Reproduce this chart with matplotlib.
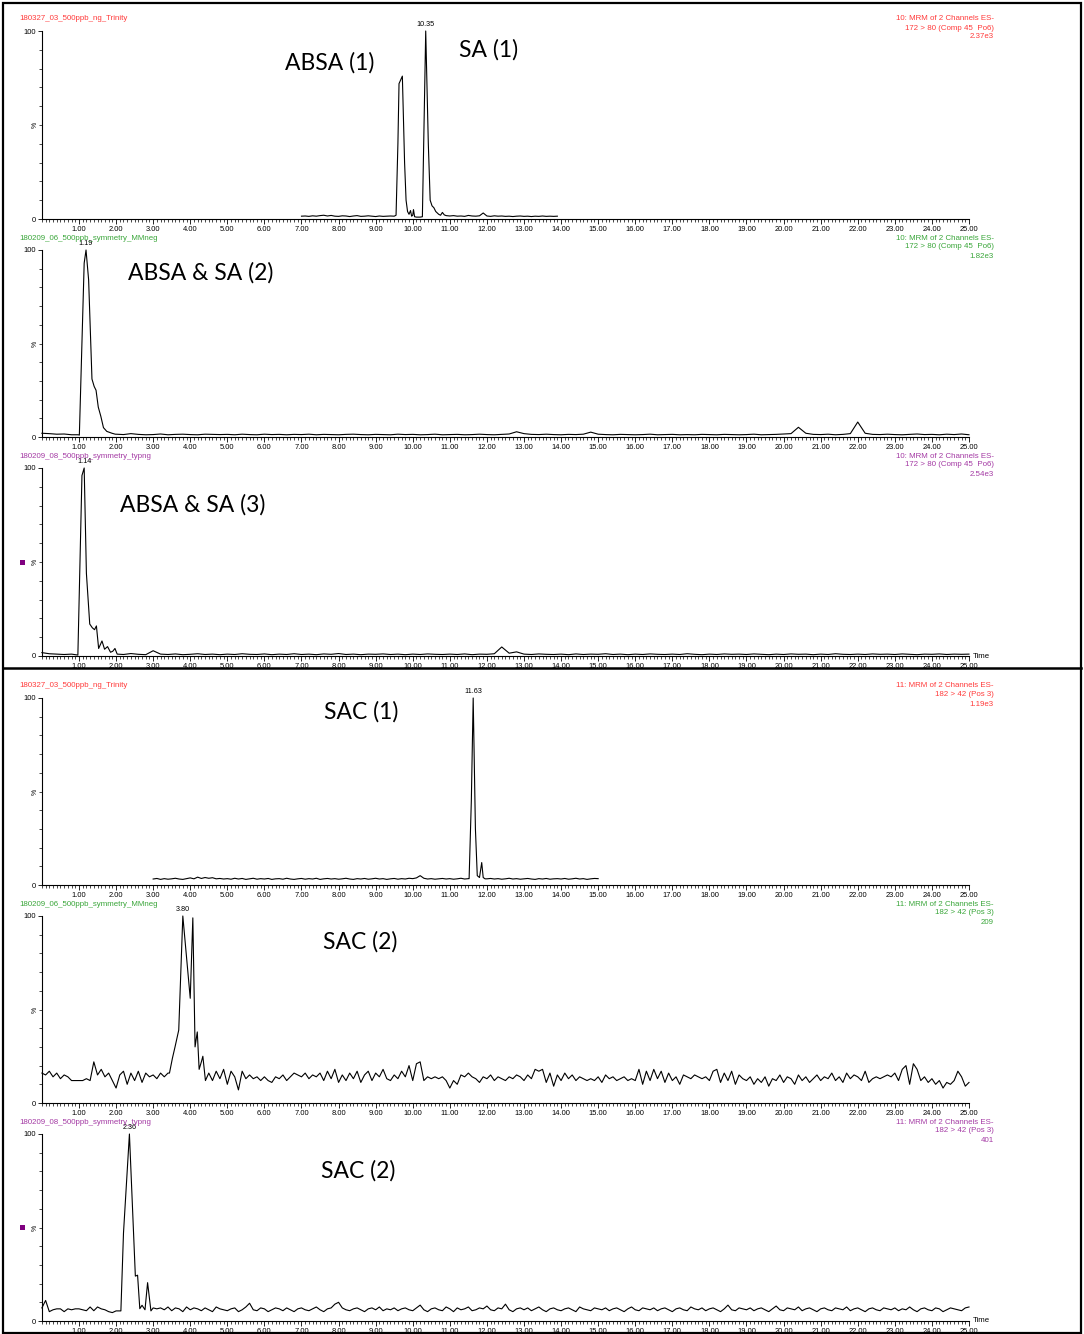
import numpy as np
import matplotlib
matplotlib.use("Agg")
import matplotlib.pyplot as plt
from matplotlib.ticker import FixedLocator, MultipleLocator
from matplotlib.lines import Line2D
from matplotlib.patches import Rectangle

# ---------------- DATA ----------------
# Panel 1: ABSA (1) / SA (1)   172 > 80, Trinity
p1_base_start, p1_base_step = 7.0, 0.1
p1_base = [1.5,1.6,1.4,1.7,1.5,1.8,2.0,1.6,1.9,1.5,
           1.4,1.7,1.6,1.3,1.6,1.8,1.4,1.5,1.7,1.5,
           1.3,1.6,1.4,1.5,1.6,1.5,1.5,1.5,1.5,1.5,
           1.5,1.5,1.5,1.5,1.5,1.5,1.5,1.5,1.5,1.8,
           1.6,1.8,1.5,1.6,1.4,1.9,1.6,1.5,1.7,3.2,
           1.6,1.4,1.7,1.5,1.6,1.4,1.5,1.3,1.5,1.6,
           1.4,1.5,1.3,1.5,1.4,1.6,1.4,1.5,1.4,1.5]
p1_peak_t = [9.55,9.60,9.63,9.72,9.78,9.82,9.86,9.90,9.94,9.97,10.00,10.02,10.05,10.10,10.20,
             10.26,10.35,10.42,10.47,10.52,10.57,10.62,10.70,10.75,10.80,10.85]
p1_peak_i = [2.0,40,72,76,30,10,4,2.5,4.5,1.5,2.0,5.0,1.2,1.0,1.0,
             1.2,100,40,10,7,6,4,2.5,2.0,3.5,2.2]

# Panel 2: ABSA & SA (2)   172 > 80, MMneg
p2_base_start, p2_base_step = 0.0, 0.2
p2_base = [2.0,1.8,1.5,1.6,1.2, 1.0,1.0,1.0,1.0,1.0, 1.5,1.3,1.8,1.4,1.2, 1.3,1.6,1.2,1.4,1.5,
           1.3,1.2,1.5,1.4,1.3, 1.4,1.2,1.5,1.3,1.2, 1.5,1.3,1.4,1.2,1.4, 1.3,1.5,1.2,1.4,1.3,
           1.2,1.4,1.5,1.3,1.2, 1.4,1.3,1.2,1.5,1.3, 1.4,1.2,1.3,1.5,1.2, 1.3,1.4,1.2,1.3,1.5,
           1.3,1.2,1.4,1.6,2.8, 1.8,1.4,1.3,1.5,1.3, 1.2,1.4,1.3,1.5,2.6, 1.5,1.3,1.2,1.4,1.3,
           1.2,1.3,1.5,1.2,1.3, 1.4,1.2,1.3,1.2,1.4, 1.3,1.2,1.4,1.3,1.2, 1.3,1.5,1.2,1.3,1.4,
           1.6,1.8,5.2,2.0,1.4, 1.3,1.5,1.2,1.4,1.8, 8.0,2.0,1.4,1.3,1.5, 1.3,1.2,1.4,1.6,1.3,
           1.4,1.2,1.5,1.3,1.6, 1.2]
p2_peak_t = [0.98,1.01,1.14,1.19,1.26,1.35,1.41,1.46,1.52,1.59,1.66,1.75,1.89,1.98]
p2_peak_i = [1.2,1.0,93,100,84,31,27,25,16,11,5,3,2,1.5]

# Panel 3: ABSA & SA (3)   172 > 80, typng
p3_base_start, p3_base_step = 0.0, 0.2
p3_base = [1.8,1.2,1.0,0.8,1.0, 1.0,1.0,1.0,1.0,1.0, 1.0,0.8,1.3,0.9,0.7, 2.8,1.0,0.8,1.1,0.7,
           0.9,1.2,0.8,1.0,0.7, 1.0,0.8,1.2,0.9,0.8, 1.1,0.7,1.0,0.8,1.2, 0.8,1.0,0.7,1.1,0.9,
           1.3,0.8,1.0,0.7,1.0, 0.9,1.1,0.8,1.0,0.7, 1.0,0.8,1.1,0.9,0.8, 1.0,0.8,1.1,0.7,1.0,
           0.9,1.2,4.8,1.5,2.2, 1.0,0.8,1.1,0.9,0.8, 1.0,0.7,1.1,0.8,1.0, 0.9,1.2,0.8,1.0,0.7,
           1.0,0.8,1.1,0.9,0.8, 1.0,0.8,1.2,0.9,0.7, 1.0,0.8,1.1,0.9,1.0, 0.8,1.1,0.9,0.7,1.0,
           0.8,1.1,0.9,1.0,0.7, 1.0,0.8,1.2,0.9,0.8, 1.0,0.8,1.1,0.9,1.0, 0.8,1.1,0.9,0.7,1.0,
           0.9,1.1,0.8,1.0,0.9, 1.0]
p3_peak_t = [0.97,1.08,1.14,1.20,1.29,1.36,1.42,1.47,1.53,1.62,1.69,1.77,1.85,1.91,1.97,2.03]
p3_peak_i = [0.5,96,100,44,17,15,14,16,4,8,3.6,5,2,2.5,4,1]

# Panel 4: SAC (1)   182 > 42, Trinity
p4_base_start, p4_base_step = 3.0, 0.1
p4_base = [3.2,3.5,3.0,3.4,3.1,3.3,3.6,3.2,3.0,3.4,
           3.8,3.3,4.2,3.5,4.0,3.6,3.9,3.3,3.5,3.2,
           3.4,3.1,3.6,3.2,3.5,3.0,3.3,3.6,3.1,3.4,
           3.2,3.5,3.0,3.3,3.4,3.1,3.6,3.2,3.0,3.3,
           3.5,3.1,3.4,3.2,3.6,3.0,3.3,3.5,3.2,3.4,
           3.1,3.3,3.6,3.2,3.0,3.4,3.2,3.5,3.1,3.3,
           3.6,3.2,3.4,3.0,3.3,3.5,3.1,3.4,3.2,3.6,
           3.4,3.8,5.0,3.6,3.2,3.4,3.1,3.3,3.5,3.2,
           3.4,3.1,3.3,3.6,3.2,3.4,3.0,3.0,3.0,3.0,
           3.3,3.5,3.2,3.4,3.1,3.3,3.6,3.2,3.4,3.1,
           3.3,3.5,3.2,3.0,3.4,3.2,3.5,3.1,3.3,3.4,
           3.2,3.5,3.1,3.3,3.6,3.2,3.4,3.0,3.3,3.5,
           3.4]
p4_peak_t = [11.52,11.58,11.63,11.69,11.74,11.80,11.86,11.90,11.95]
p4_peak_i = [3.4,45,100,30,5,4,12,4,3.3]

# Panel 5: SAC (2)   182 > 42, MMneg
p5_base_start, p5_base_step = 0.0, 0.1
p5_base = [16,15,17,14,16,13,15,14,12,12,
           12,12,13,12,22,15,18,14,16,12,
           8,15,17,10,16,12,17,11,16,14,
           15,13,16,14,16,15,15,15,15,15,
           15,15,15,15,15,16,12,17,13,18,
           10,17,14,7,17,13,15,13,14,12,
           14,12,11,14,13,15,12,14,16,15,
           14,16,13,15,14,16,12,17,13,18,
           11,15,12,16,13,17,11,15,17,12,
           16,14,18,13,12,15,13,17,14,20,
           12,21,22,12,14,13,14,13,14,12,
           8,12,10,15,14,16,14,13,11,14,
           13,15,12,14,13,12,14,13,15,14,
           12,15,13,18,17,18,11,16,9,15,
           12,16,13,15,12,14,13,12,13,12,
           14,11,15,13,14,12,13,14,12,13,
           12,18,10,17,12,18,13,17,11,16,
           12,14,10,15,14,13,15,14,13,14,
           12,17,18,11,16,12,17,10,15,13,
           12,14,10,13,11,14,9,13,12,15,
           11,14,13,10,15,12,14,11,13,15,
           12,14,13,16,12,14,11,16,13,15,
           14,12,17,11,13,14,13,14,15,14,
           16,12,18,20,10,21,18,12,14,11,
           13,10,12,8,11,10,12,17,14,9,
           11]
p5_peak_t = [3.44,3.52,3.59,3.69,3.80,4.00,4.07,4.13,4.19,4.24,4.30,4.34,4.41]
p5_peak_i = [16,24,30,39,100,56,99,30,38,18,22,25,12]

# Panel 6: SAC (2)   182 > 42, typng
p6_base_start, p6_base_step = 0.0, 0.1
p6_base = [7.0,11.0,5.0,6.0,6.5,6.5,5.0,6.5,6.0,6.5,
           6.5,6.0,5.5,7.5,5.5,7.5,6.5,6.0,5.0,4.5,
           5.4,5.4,5.0,5.0,5.0,5.0,5.0,5.0,5.0,5.0,
           7.0,6.5,7.0,6.0,7.5,5.5,7.0,6.5,5.0,7.5,
           6.0,7.0,6.5,5.5,7.0,6.0,5.0,7.5,6.5,6.0,
           5.5,6.5,7.0,5.0,6.0,7.5,9.5,6.0,5.5,7.0,
           6.5,5.0,6.0,7.0,6.5,5.5,7.0,6.0,5.0,6.5,
           7.0,6.0,5.5,6.5,7.5,6.0,5.0,6.5,7.0,9.0,
           10.0,7.0,6.0,5.5,6.5,7.0,6.0,5.0,6.5,7.0,
           6.0,7.5,5.5,6.5,6.0,7.0,5.5,6.5,7.0,6.0,
           5.5,7.0,8.5,6.0,5.0,6.5,7.0,6.0,5.5,7.5,
           6.5,5.0,7.0,6.0,6.5,7.5,5.5,6.0,7.0,6.5,
           8.0,6.0,5.5,7.0,6.5,9.0,6.0,5.0,6.5,7.0,
           6.0,7.0,5.5,6.5,7.5,6.0,5.0,6.5,7.0,6.0,
           5.5,6.5,7.0,6.0,5.0,7.5,6.5,6.0,5.5,7.0,
           6.5,6.0,7.0,5.5,6.5,7.0,6.0,5.0,6.5,7.5,
           6.0,5.5,7.0,6.5,6.0,7.0,5.5,6.5,7.0,6.0,
           5.0,6.5,7.0,6.0,5.5,7.5,6.5,6.0,7.0,5.5,
           6.5,7.0,6.0,5.0,6.5,8.5,6.0,5.5,7.0,6.5,
           6.0,7.0,5.5,6.5,7.0,6.0,5.0,6.5,8.0,6.0,
           5.5,7.0,6.5,6.0,7.5,5.5,6.5,7.0,6.0,5.0,
           6.5,7.0,6.0,5.5,7.0,6.5,6.0,7.5,5.5,6.5,
           7.0,6.0,5.0,6.5,7.0,6.0,5.5,7.0,6.5,6.0,
           7.0,5.5,6.5,6.0,7.5,6.0,5.0,6.5,7.0,6.0,
           5.5,7.0,6.5,5.0,6.0,7.0,6.5,6.0,5.5,7.0,
           7.5]
p6_peak_t = [2.13,2.20,2.36,2.52,2.58,2.64,2.70,2.78,2.85,2.94]
p6_peak_i = [5.4,47,100,24,24.5,6.6,8.4,6,20.5,5.4]

sample_names = ["180327_03_500ppb_ng_Trinity", "180209_06_500ppb_symmetry_MMneg",
                "180209_08_500ppb_symmetry_typng", "180327_03_500ppb_ng_Trinity",
                "180209_06_500ppb_symmetry_MMneg", "180209_08_500ppb_symmetry_typng"]
func_line1 = ["10: MRM of 2 Channels ES-"] * 3 + ["11: MRM of 2 Channels ES-"] * 3
func_line2 = ["172 > 80 (Comp 45  Po6)"] * 3 + ["182 > 42 (Pos 3)"] * 3
base_peak_int = ["2.37e3", "1.82e3", "2.54e3", "1.19e3", "209", "401"]
compound_labels = [["ABSA (1)", "SA (1)"], ["ABSA & SA (2)"], ["ABSA & SA (3)"],
                   ["SAC (1)"], ["SAC (2)"], ["SAC (2)"]]
x_tick_values = list(range(1, 26))

# ---------------- STYLE / LAYOUT ----------------
W, H = 1084, 1334
RED, GREEN, PURPLE = "#ff3b3b", "#3aa63a", "#a43aa4"
name_colors = [RED, GREEN, PURPLE, RED, GREEN, PURPLE]
# (pixel y of 0 %, pixel y of 100 %)
panel_y = [(219, 31), (437, 250), (656, 468), (885, 698), (1103, 916), (1321, 1134)]
X0_PX, X25_PX = 41.9, 969.0
label_pos = [[(330, 63), (489, 50)], [(201, 273)], [(193, 505)],
             [(361, 712)], [(360, 942)], [(358, 1171)]]
SMALL = "Liberation Sans"
BIG = "Lato"


def merge(start, step, base, pk_t, pk_i):
    bt = np.round(start + step * np.arange(len(base)), 3)
    bv = np.asarray(base, float)
    keep = (bt < pk_t[0]) | (bt > pk_t[-1])
    t = np.concatenate([bt[keep], pk_t])
    v = np.concatenate([bv[keep], pk_i])
    o = np.argsort(t, kind="stable")
    return t[o], v[o]


traces = [
    merge(p1_base_start, p1_base_step, p1_base, p1_peak_t, p1_peak_i),
    merge(p2_base_start, p2_base_step, p2_base, p2_peak_t, p2_peak_i),
    merge(p3_base_start, p3_base_step, p3_base, p3_peak_t, p3_peak_i),
    merge(p4_base_start, p4_base_step, p4_base, p4_peak_t, p4_peak_i),
    merge(p5_base_start, p5_base_step, p5_base, p5_peak_t, p5_peak_i),
    merge(p6_base_start, p6_base_step, p6_base, p6_peak_t, p6_peak_i),
]

fig = plt.figure(figsize=(W / 100, H / 100), dpi=100)
fig.patch.set_facecolor("white")


def fx(px):
    return px / W


def fy(py):
    return 1 - py / H


for k, (t, v) in enumerate(traces):
    y0, y100 = panel_y[k]
    ax = fig.add_axes([fx(X0_PX), fy(y0), (X25_PX - X0_PX) / W, (y0 - y100) / H])
    ax.set_xlim(0, 25)
    ax.set_ylim(0, 100)
    ax.patch.set_alpha(0)
    for s in ("top", "right"):
        ax.spines[s].set_visible(False)
    for s in ("left", "bottom"):
        ax.spines[s].set_linewidth(0.8)
        ax.spines[s].set_color("black")
    ax.plot(t, v, color="black", lw=0.8, clip_on=False)

    ax.xaxis.set_major_locator(FixedLocator(x_tick_values))
    ax.set_xticklabels([f"{x:.2f}" for x in x_tick_values], fontsize=5.4, family=SMALL)
    ax.xaxis.set_minor_locator(MultipleLocator(0.1))
    ax.tick_params(axis="x", which="major", direction="out", length=3.5, width=0.6, pad=1.2)
    ax.tick_params(axis="x", which="minor", direction="out", length=2, width=0.5)

    ax.yaxis.set_major_locator(FixedLocator([0, 100]))
    ax.set_yticklabels(["0", "100"], fontsize=5.4, family=SMALL)
    ax.yaxis.set_minor_locator(FixedLocator([10, 20, 30, 40, 50, 60, 70, 80, 90]))
    ax.tick_params(axis="y", which="major", direction="out", length=3, width=0.6, pad=1)
    ax.tick_params(axis="y", which="minor", direction="out", length=2, width=0.5)
    ax.text(-0.007, 50, "%", rotation=90, fontsize=5, family=SMALL,
            transform=ax.get_yaxis_transform(), ha="center", va="center")

    # peak retention-time label
    im = int(np.argmax(v))
    ax.text(t[im], 101.5, f"{t[im]:.2f}", fontsize=5.2, family=SMALL, ha="center", va="bottom")

    # header texts
    col = name_colors[k]
    fig.text(fx(19), fy(y100 - 12), sample_names[k], color=col, fontsize=5.7,
             family=SMALL, ha="left", va="center")
    for j, s in enumerate([func_line1[k], func_line2[k], base_peak_int[k]]):
        fig.text(fx(994), fy(y100 - 12 + 9 * j), s, color=col, fontsize=5.7,
                 family=SMALL, ha="right", va="center")

    # compound labels
    for lab, (lx, ly) in zip(compound_labels[k], label_pos[k]):
        fig.text(fx(lx), fy(ly), lab, fontsize=16.5, family=BIG, ha="center", va="center")

    if k in (2, 5):
        fig.text(fx(973), fy(y0), "Time", fontsize=5.6, family=SMALL, ha="left", va="center")
        fig.add_artist(Rectangle((fx(19.5), fy((y0 + y100) / 2 + 2.5)), 5 / W, 5 / H,
                                 transform=fig.transFigure, facecolor="#800080",
                                 edgecolor="none"))

# frame and separator
fig.add_artist(Rectangle((fx(3), fy(1332.5)), (1081 - 3) / W, (1332.5 - 2.5) / H,
                         transform=fig.transFigure, fill=False, edgecolor="black", lw=1.6))
fig.add_artist(Line2D([fx(3), fx(1081)], [fy(668), fy(668)], transform=fig.transFigure,
                      color="black", lw=1.8))

fig.savefig("out.png", dpi=100)
